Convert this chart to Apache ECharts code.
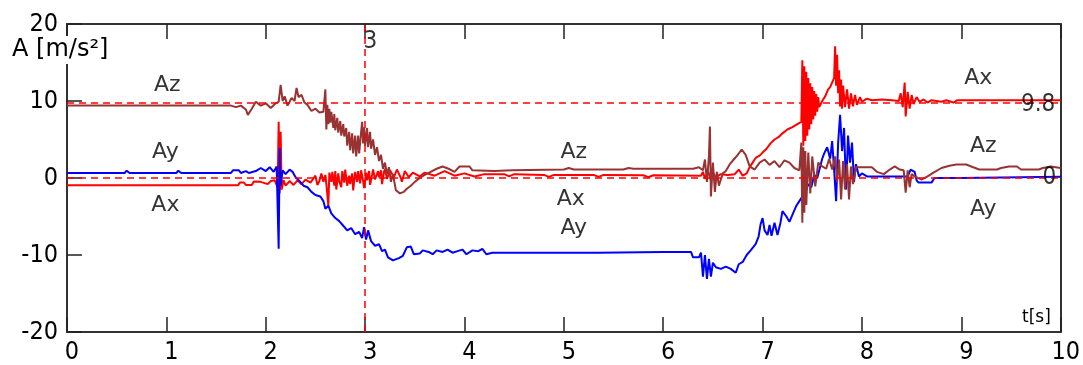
<!DOCTYPE html>
<html>
<head>
<meta charset="utf-8">
<script src="https://cdn.jsdelivr.net/npm/echarts@6/dist/echarts.min.js"></script>
<style>
html,body{margin:0;padding:0;background:#fff;}
#c{width:1083px;height:365px;}
</style>
</head>
<body>
<div id="c"></div>
<script>
// ---- data: [t (s), A (m/s^2)] ----
const axPoints = [[0,-0.95],[0.7,-0.95],[0.72,-0.75],[0.74,-0.95],[1.72,-0.95],[1.74,-0.6],[1.78,-0.6],[1.8,-0.9],[1.86,-0.9],[1.88,-0.45],[1.95,-0.5],[1.97,-0.75],[2.02,-0.8],[2.05,-0.4],[2.09,-0.3],[2.12,-1.2],[2.13,7.3],[2.14,-2.0],[2.15,6.0],[2.16,-1.5],[2.18,-0.3],[2.2,-1.0],[2.24,-0.4],[2.28,-0.9],[2.32,-0.3],[2.36,-0.8],[2.4,-0.2],[2.45,-0.6],[2.5,0.3],[2.52,-0.9],[2.54,-0.4],[2.56,0.6],[2.58,-0.5],[2.6,0.4],[2.61,-0.8],[2.63,-3.6],[2.64,0.7],[2.66,-0.5],[2.67,0.8],[2.69,-1.0],[2.7,0.9],[2.71,-1.5],[2.73,0.6],[2.74,-0.4],[2.76,-1.2],[2.77,0.9],[2.79,-0.6],[2.8,1.1],[2.82,-1.0],[2.84,0.3],[2.85,-0.8],[2.87,0.6],[2.88,-1.6],[2.9,0.8],[2.92,-0.5],[2.93,0.9],[2.95,-0.7],[2.96,1.0],[2.98,-0.4],[2.99,-1.3],[3.01,0.7],[3.02,-0.3],[3.04,0.9],[3.05,-0.9],[3.07,0.4],[3.08,1.1],[3.1,-0.2],[3.11,-0.4],[3.13,0.9],[3.14,0.1],[3.16,1.0],[3.17,-0.8],[3.19,0.8],[3.2,1.2],[3.22,-0.1],[3.23,0.2],[3.25,1.0],[3.27,1.1],[3.29,0.1],[3.3,0.3],[3.32,1.1],[3.34,1.0],[3.36,0.0],[3.37,-0.5],[3.4,0.9],[3.44,0.1],[3.48,0.7],[3.55,0.2],[3.6,0.7],[3.7,0.3],[3.8,0.9],[3.9,0.3],[4.0,0.6],[4.1,0.2],[4.2,0.5],[4.4,0.5],[4.45,0.2],[4.5,0.5],[4.8,0.4],[4.85,0.15],[4.9,0.4],[5.3,0.4],[5.35,0.15],[5.4,0.4],[5.8,0.35],[5.85,0.1],[5.9,0.35],[6.38,0.3],[6.4,0.8],[6.42,-0.1],[6.45,0.9],[6.48,-0.3],[6.5,0.7],[6.53,0.1],[6.58,0.5],[6.65,0.4],[6.72,0.5],[6.76,1.1],[6.8,0.3],[6.84,0.6],[6.87,1.4],[6.9,2.0],[6.93,2.6],[6.97,2.9],[7.0,3.3],[7.04,3.8],[7.08,4.5],[7.12,5.0],[7.16,5.3],[7.2,5.8],[7.25,6.3],[7.3,6.6],[7.35,7.0],[7.39,7.3],[7.40,15.3],[7.41,4.2],[7.42,14.5],[7.43,4.8],[7.44,13.8],[7.45,5.5],[7.46,13.0],[7.47,6.3],[7.48,12.3],[7.49,7.0],[7.5,11.8],[7.51,7.6],[7.52,11.3],[7.53,8.1],[7.54,10.9],[7.55,8.6],[7.56,10.5],[7.57,9.2],[7.6,10.0],[7.63,10.6],[7.66,11.5],[7.68,11.8],[7.7,11.6],[7.72,13.0],[7.73,17.1],[7.74,12.0],[7.75,16.0],[7.76,11.0],[7.77,14.0],[7.78,9.3],[7.79,12.8],[7.8,9.0],[7.81,12.0],[7.83,9.2],[7.85,11.5],[7.87,9.0],[7.89,11.0],[7.91,9.3],[7.93,10.8],[7.95,9.5],[7.98,10.5],[8.0,9.9],[8.05,10.3],[8.1,10.1],[8.2,10.2],[8.3,10.1],[8.37,10.0],[8.39,11.0],[8.41,9.2],[8.43,12.4],[8.44,8.0],[8.46,11.2],[8.48,9.0],[8.5,10.8],[8.52,9.6],[8.55,10.5],[8.58,9.9],[8.62,10.2],[8.66,9.8],[8.7,10.1],[8.8,9.9],[8.85,10.1],[8.92,9.8],[8.96,10.1],[9.2,10.1],[10,10.1]];

const ayPoints = [[0,0.65],[0.58,0.65],[0.6,0.95],[0.63,0.65],[0.85,0.65],[0.86,0.9],[0.87,0.65],[1.1,0.65],[1.12,0.95],[1.15,0.65],[1.65,0.65],[1.67,1.0],[1.73,1.0],[1.75,0.65],[1.8,0.9],[1.83,0.65],[1.9,0.9],[1.95,1.3],[2.0,0.9],[2.04,1.4],[2.08,0.8],[2.11,1.5],[2.13,-9.2],[2.14,3.9],[2.15,-1.0],[2.17,1.0],[2.2,0.5],[2.24,1.1],[2.27,0.8],[2.3,0.1],[2.34,-0.4],[2.38,-1.0],[2.42,-1.2],[2.46,-1.8],[2.5,-2.2],[2.55,-2.4],[2.58,-3.0],[2.6,-4.0],[2.63,-3.6],[2.66,-4.6],[2.7,-5.2],[2.74,-5.6],[2.78,-6.2],[2.82,-6.8],[2.86,-6.5],[2.9,-7.3],[2.94,-7.0],[2.97,-7.8],[2.99,-6.4],[3.01,-8.0],[3.03,-6.8],[3.06,-8.2],[3.1,-8.8],[3.14,-8.6],[3.17,-9.5],[3.2,-9.3],[3.23,-10.3],[3.28,-10.7],[3.34,-10.4],[3.38,-10.1],[3.42,-9.0],[3.46,-8.9],[3.49,-9.9],[3.55,-9.8],[3.58,-9.4],[3.64,-9.6],[3.68,-9.9],[3.72,-9.4],[3.78,-9.6],[3.83,-9.3],[3.88,-9.7],[3.93,-9.5],[3.98,-9.3],[4.02,-9.9],[4.08,-9.4],[4.14,-9.5],[4.18,-9.2],[4.22,-9.9],[4.28,-9.7],[4.4,-9.7],[4.42,-9.5],[4.44,-9.7],[4.8,-9.7],[4.82,-9.5],[4.84,-9.7],[5.3,-9.7],[5.32,-9.5],[5.34,-9.7],[6.0,-9.6],[6.28,-9.6],[6.3,-10.3],[6.36,-10.3],[6.38,-9.7],[6.4,-12.8],[6.42,-10.0],[6.44,-13.1],[6.46,-10.5],[6.48,-12.8],[6.5,-11.0],[6.53,-11.6],[6.58,-11.8],[6.63,-11.5],[6.68,-11.8],[6.73,-12.3],[6.76,-11.2],[6.8,-10.9],[6.84,-10.0],[6.88,-9.4],[6.93,-8.6],[6.96,-7.6],[6.98,-6.0],[7.0,-5.2],[7.02,-6.8],[7.05,-7.4],[7.07,-6.1],[7.09,-7.5],[7.12,-5.8],[7.15,-7.4],[7.18,-5.8],[7.2,-4.3],[7.24,-5.0],[7.27,-5.7],[7.3,-4.8],[7.34,-3.6],[7.37,-3.0],[7.4,-2.4],[7.43,-1.9],[7.46,-0.8],[7.49,-1.2],[7.52,0.4],[7.55,0.0],[7.58,1.5],[7.6,2.5],[7.62,3.2],[7.65,4.0],[7.68,2.5],[7.7,4.8],[7.72,1.0],[7.74,-3.0],[7.76,4.5],[7.78,8.2],[7.8,3.5],[7.82,6.5],[7.84,-1.5],[7.86,5.5],[7.88,2.0],[7.9,4.6],[7.92,-0.5],[7.94,1.8],[7.97,0.2],[8.0,0.6],[8.05,0.2],[8.46,0.2],[8.49,1.1],[8.53,0.8],[8.55,-0.3],[8.57,-0.6],[8.7,-0.6],[8.73,0.0],[9.0,0.0],[9.02,0.2],[10,0.15]];

const azPoints = [[0,9.4],[1.65,9.4],[1.7,9.2],[1.75,9.4],[1.8,8.9],[1.82,8.2],[1.86,9.0],[1.9,9.9],[1.95,9.4],[2.0,9.7],[2.05,9.1],[2.1,9.7],[2.13,9.9],[2.15,12.1],[2.17,10.0],[2.19,10.6],[2.22,9.4],[2.26,10.4],[2.29,10.0],[2.31,11.7],[2.33,10.5],[2.36,10.8],[2.39,9.8],[2.42,9.5],[2.46,8.7],[2.5,9.0],[2.54,8.5],[2.58,8.6],[2.6,11.5],[2.61,6.3],[2.62,9.5],[2.63,7.0],[2.64,9.0],[2.65,7.2],[2.66,8.6],[2.68,6.5],[2.69,8.3],[2.7,6.2],[2.72,7.8],[2.73,5.9],[2.75,7.4],[2.76,5.5],[2.78,7.0],[2.79,5.4],[2.81,6.5],[2.82,4.2],[2.84,6.0],[2.85,3.6],[2.87,5.8],[2.88,3.2],[2.9,5.5],[2.91,2.8],[2.93,5.5],[2.94,3.2],[2.96,6.0],[2.97,7.3],[2.98,4.5],[2.99,6.6],[3.0,4.2],[3.02,6.5],[3.03,4.0],[3.05,6.0],[3.06,3.8],[3.08,5.0],[3.1,3.0],[3.12,4.0],[3.14,2.2],[3.16,3.0],[3.18,1.2],[3.2,2.0],[3.22,0.5],[3.24,1.4],[3.26,-0.5],[3.28,0.5],[3.31,-1.6],[3.35,-2.0],[3.39,-1.8],[3.42,-1.4],[3.46,-1.0],[3.5,-0.5],[3.55,0.0],[3.6,0.4],[3.66,0.8],[3.72,1.2],[3.78,1.5],[3.84,1.2],[3.9,0.8],[3.95,1.5],[4.05,1.5],[4.08,1.0],[4.3,0.9],[4.48,1.0],[4.5,1.2],[5.0,1.1],[5.05,1.3],[5.1,1.1],[5.6,1.1],[5.65,1.3],[5.7,1.2],[6.3,1.2],[6.36,1.4],[6.4,1.0],[6.42,2.4],[6.44,-0.5],[6.46,2.8],[6.47,6.7],[6.48,-2.4],[6.5,2.0],[6.52,-1.8],[6.54,0.8],[6.56,-1.0],[6.6,0.6],[6.63,0.9],[6.67,1.8],[6.71,2.4],[6.75,3.0],[6.79,3.7],[6.83,3.0],[6.87,1.5],[6.92,1.1],[6.97,2.0],[7.02,2.4],[7.07,1.7],[7.12,2.2],[7.17,1.4],[7.22,2.3],[7.27,2.0],[7.32,1.3],[7.37,1.0],[7.39,4.6],[7.4,-5.8],[7.41,4.0],[7.42,-4.5],[7.43,3.5],[7.44,-3.5],[7.46,3.3],[7.48,-2.0],[7.5,2.8],[7.53,-1.1],[7.56,2.0],[7.6,1.5],[7.64,1.2],[7.67,2.5],[7.7,1.1],[7.73,2.8],[7.75,-0.5],[7.77,2.4],[7.79,-2.8],[7.81,2.2],[7.83,-1.5],[7.85,1.8],[7.87,-2.8],[7.89,1.5],[7.91,-0.8],[7.94,1.4],[8.1,1.4],[8.15,0.8],[8.22,0.5],[8.28,1.1],[8.33,1.5],[8.38,1.1],[8.42,1.0],[8.44,-1.9],[8.46,1.0],[8.48,-1.2],[8.5,0.5],[8.53,0.2],[8.6,-0.2],[8.66,0.2],[8.72,0.7],[8.8,1.3],[8.88,1.6],[8.95,1.75],[9.05,1.75],[9.1,1.5],[9.18,1.1],[9.36,1.1],[9.4,1.3],[9.48,1.5],[9.56,1.5],[9.6,1.1],[9.78,1.1],[9.82,1.3],[9.9,1.5],[10,1.3]];

// series name labels placed in data coordinates [t, A, text]
const seriesLabels = [[1.01,12.0,'Az'],[0.99,3.4,'Ay'],[0.99,-3.6,'Ax'],[5.1,3.4,'Az'],[5.07,-2.8,'Ax'],[5.1,-6.5,'Ay'],[9.17,12.9,'Ax'],[9.22,4.1,'Az'],[9.22,-4.1,'Ay']];
// reference marker values
const refY = [9.8, 0];
const refX = [3];
const refLabelsRight = [[9.95,9.5,'9.8'],[9.96,0,'0']];
const refLabelsTop = [[2.98,17.7,'3']];

const numFont = "'Liberation Sans Narrow','DejaVu Sans Condensed','DejaVu Sans Mono',monospace";
const txtFont = "'DejaVu Sans',Verdana,sans-serif";

const chart = echarts.init(document.getElementById('c'), null, {renderer:'canvas'});
const axisLineStyle = {color:'#333', width:2};
const tickStyle = {color:'#222', width:1.5};

chart.setOption({
  animation:false,
  backgroundColor:'#fff',
  title:[
    {text:'A [m/s²]', left:9, top:36, padding:[2,3,2,3], backgroundColor:'#fff',
     textStyle:{fontFamily:txtFont, fontSize:24, fontWeight:'normal', color:'#000'}},
    {text:'t[s]', left:1022, top:309, padding:0,
     textStyle:{fontFamily:txtFont, fontSize:17, fontWeight:'normal', color:'#000'}}
  ],
  grid:{left:67, right:20, top:24, bottom:32, containLabel:false},
  xAxis:[
    {type:'value', min:0, max:10, interval:1, position:'bottom',
     axisLine:{show:true, onZero:false, lineStyle:axisLineStyle},
     axisTick:{show:true, inside:true, length:15, lineStyle:tickStyle},
     axisLabel:{show:true, margin:8, padding:[0,0,0,10], fontFamily:numFont, fontSize:25, color:'#000'},
     splitLine:{show:false}},
    {type:'value', min:0, max:10, interval:1, position:'top',
     axisLine:{show:true, onZero:false, lineStyle:axisLineStyle},
     axisTick:{show:true, inside:true, length:15, lineStyle:tickStyle},
     axisLabel:{show:false}, splitLine:{show:false}}
  ],
  yAxis:[
    {type:'value', min:-20, max:20, interval:10, position:'left',
     axisLine:{show:true, onZero:false, lineStyle:axisLineStyle},
     axisTick:{show:true, inside:true, length:15, lineStyle:tickStyle},
     axisLabel:{show:true, margin:9, fontFamily:numFont, fontSize:25, color:'#000'},
     splitLine:{show:false}},
    {type:'value', min:-20, max:20, interval:10, position:'right', alignTicks:false,
     axisLine:{show:true, onZero:false, lineStyle:axisLineStyle},
     axisTick:{show:false}, axisLabel:{show:false}, splitLine:{show:false}}
  ],
  series:[
    {name:'Ax', type:'line', data:axPoints, showSymbol:false, symbol:'none',
     lineStyle:{color:'#ff0000', width:2}, itemStyle:{color:'#ff0000'}, z:2,
     markLine:{silent:true, symbol:['none','none'], animation:false,
       lineStyle:{color:'#ff0000', type:[7,5], width:1.5},
       label:{show:false},
       data: refY.map(v=>({yAxis:v})).concat(refX.map(v=>({xAxis:v})))}},
    {name:'Ay', type:'line', data:ayPoints, showSymbol:false, symbol:'none',
     lineStyle:{color:'#0000ff', width:2}, itemStyle:{color:'#0000ff'}, z:3},
    {name:'Az', type:'line', data:azPoints, showSymbol:false, symbol:'none',
     lineStyle:{color:'#993333', width:2}, itemStyle:{color:'#993333'}, z:4},
    {name:'labels', type:'scatter', data:seriesLabels, symbolSize:1, z:6,
     itemStyle:{color:'rgba(0,0,0,0)'}, silent:true,
     label:{show:true, position:'inside', formatter:p=>p.data[2],
       fontFamily:txtFont, fontSize:22, color:'#000'}},
    {name:'refLabelsRight', type:'scatter', data:refLabelsRight, symbolSize:1, z:6,
     itemStyle:{color:'rgba(0,0,0,0)'}, silent:true,
     label:{show:true, position:'left', distance:0, formatter:p=>p.data[2],
       fontFamily:numFont, fontSize:24, color:'#000'}},
    {name:'refLabelsTop', type:'scatter', data:refLabelsTop, symbolSize:1, z:6,
     itemStyle:{color:'rgba(0,0,0,0)'}, silent:true,
     label:{show:true, position:'right', distance:0, formatter:p=>p.data[2],
       fontFamily:numFont, fontSize:24, color:'#000'}}
  ]
});
</script>
</body>
</html>
